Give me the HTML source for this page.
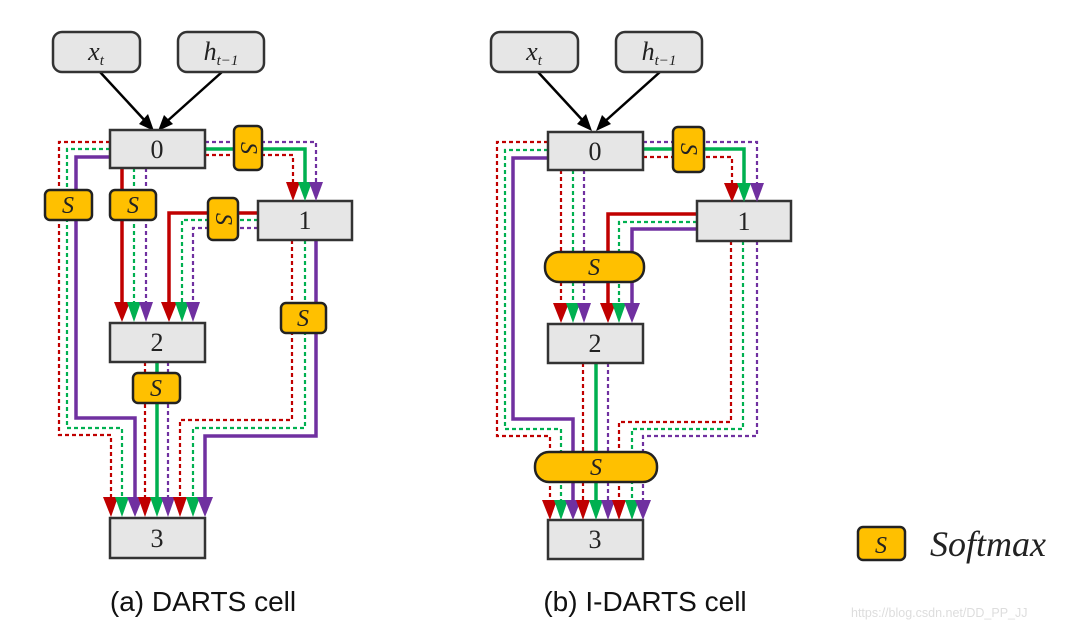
<!DOCTYPE html>
<html><head><meta charset="utf-8"><style>
html,body{margin:0;padding:0;background:#fff;}
svg{display:block;}
.n{fill:#e6e6e6;stroke:#333;stroke-width:2.5;}
.nt{font-family:"Liberation Serif",serif;font-size:26px;text-anchor:middle;fill:#222;}
.s{fill:#ffc000;stroke:#222;stroke-width:2.5;}
.st{font-family:"Liberation Serif",serif;font-style:italic;font-size:24px;text-anchor:middle;fill:#222;}
.rs{stroke:#c00000;stroke-width:3.5;fill:none;}
.gs{stroke:#00b050;stroke-width:3.5;fill:none;}
.ps{stroke:#7030a0;stroke-width:3.5;fill:none;}
.rd{stroke:#c00000;stroke-width:2.2;fill:none;stroke-dasharray:4 3;}
.gd{stroke:#00b050;stroke-width:2.2;fill:none;stroke-dasharray:4 3;}
.pd{stroke:#7030a0;stroke-width:2.2;fill:none;stroke-dasharray:4 3;}
.r{fill:#c00000}.g{fill:#00b050}.p{fill:#7030a0}
</style></head><body>
<svg width="1080" height="628" viewBox="0 0 1080 628" xmlns="http://www.w3.org/2000/svg">

<!-- ================= LEFT ================= -->
<line x1="100" y1="72" x2="148" y2="124" stroke="#000" stroke-width="2.5"/>
<polygon points="154,131 139,124 148,114" fill="#000"/>
<line x1="222" y1="72" x2="164" y2="124" stroke="#000" stroke-width="2.5"/>
<polygon points="158,131 164,115 173,124" fill="#000"/>
<rect x="53" y="32" width="87" height="40" rx="9" class="n"/>
<text x="96" y="60" class="nt" font-style="italic">x<tspan font-size="15" dy="5">t</tspan></text>
<rect x="178" y="32" width="86" height="40" rx="9" class="n"/>
<text x="221" y="60" class="nt" font-style="italic">h<tspan font-size="15" dy="5">t−1</tspan></text>

<path class="rd" d="M110,142 H59 V435 H111 V497"/>
<path class="gd" d="M110,149 H67 V428 H122 V497"/>
<path class="ps" d="M110,157 H76 V418 H135 V497"/>
<path class="rs" d="M122,168 V302"/>
<path class="gd" d="M134,168 V302"/>
<path class="pd" d="M146,168 V302"/>
<path class="rs" d="M258,213 H169 V302"/>
<path class="gd" d="M258,220 H182 V302"/>
<path class="pd" d="M258,228 H193 V302"/>
<path class="rd" d="M292,240 V420 H180 V497"/>
<path class="gd" d="M305,240 V428 H193 V497"/>
<path class="ps" d="M316,240 V436 H205 V497"/>
<path class="pd" d="M205,142 H316 V182"/>
<path class="gs" d="M205,149 H305 V182"/>
<path class="rd" d="M205,155 H293 V182"/>
<path class="rd" d="M145,362 V497"/>
<path class="gs" d="M157,362 V497"/>
<path class="pd" d="M168,362 V497"/>

<rect x="110" y="130" width="95" height="38" class="n"/><text x="157" y="158" class="nt">0</text>
<rect x="258" y="201" width="94" height="39" class="n"/><text x="305" y="229" class="nt">1</text>
<rect x="110" y="323" width="95" height="39" class="n"/><text x="157" y="351" class="nt">2</text>
<rect x="110" y="518" width="95" height="40" class="n"/><text x="157" y="547" class="nt">3</text>

<rect x="234" y="126" width="28" height="44" rx="5" class="s"/><text class="st" transform="translate(248,148) rotate(90)" y="7">S</text>
<rect x="45" y="190" width="47" height="30" rx="5" class="s"/><text x="68" y="213" class="st">S</text>
<rect x="110" y="190" width="46" height="30" rx="5" class="s"/><text x="133" y="213" class="st">S</text>
<rect x="208" y="198" width="30" height="42" rx="5" class="s"/><text class="st" transform="translate(223,219) rotate(90)" y="7">S</text>
<rect x="281" y="303" width="45" height="30" rx="5" class="s"/><text x="303" y="326" class="st">S</text>
<rect x="133" y="373" width="47" height="30" rx="5" class="s"/><text x="156" y="396" class="st">S</text>

<g>
<polygon class="r" points="286,182 300,182 293,201"/><polygon class="g" points="298,182 312,182 305,201"/><polygon class="p" points="309,182 323,182 316,201"/>
<polygon class="r" points="114,302 130,302 122,322"/><polygon class="g" points="127,302 141,302 134,322"/><polygon class="p" points="139,302 153,302 146,322"/>
<polygon class="r" points="161,302 177,302 169,322"/><polygon class="g" points="175,302 189,302 182,322"/><polygon class="p" points="186,302 200,302 193,322"/>
<polygon class="r" points="103,497 118,497 111,517"/><polygon class="g" points="115,497 129,497 122,517"/><polygon class="p" points="127,497 143,497 135,517"/>
<polygon class="r" points="138,497 152,497 145,517"/><polygon class="g" points="150,497 164,497 157,517"/><polygon class="p" points="161,497 175,497 168,517"/>
<polygon class="r" points="173,497 187,497 180,517"/><polygon class="g" points="186,497 200,497 193,517"/><polygon class="p" points="197,497 213,497 205,517"/>
</g>

<!-- ================= RIGHT ================= -->
<line x1="538" y1="72" x2="586" y2="124" stroke="#000" stroke-width="2.5"/>
<polygon points="592,131 577,124 586,114" fill="#000"/>
<line x1="660" y1="72" x2="602" y2="124" stroke="#000" stroke-width="2.5"/>
<polygon points="596,131 602,115 611,124" fill="#000"/>
<rect x="491" y="32" width="87" height="40" rx="9" class="n"/>
<text x="534" y="60" class="nt" font-style="italic">x<tspan font-size="15" dy="5">t</tspan></text>
<rect x="616" y="32" width="86" height="40" rx="9" class="n"/>
<text x="659" y="60" class="nt" font-style="italic">h<tspan font-size="15" dy="5">t−1</tspan></text>

<path class="rd" d="M548,142 H497 V436 H550 V500"/>
<path class="gd" d="M548,150 H505 V429 H561 V500"/>
<path class="ps" d="M548,158 H513 V419 H573 V500"/>
<path class="rd" d="M561,170 V303"/>
<path class="gd" d="M573,170 V303"/>
<path class="pd" d="M584,170 V303"/>
<path class="rs" d="M697,214 H608 V303"/>
<path class="gd" d="M697,222 H619 V303"/>
<path class="ps" d="M697,229 H632 V303"/>
<path class="rd" d="M731,241 V422 H619 V500"/>
<path class="gd" d="M743,241 V429 H632 V500"/>
<path class="pd" d="M757,241 V436 H643 V500"/>
<path class="pd" d="M643,142 H757 V183"/>
<path class="gs" d="M643,149 H744 V183"/>
<path class="rd" d="M643,157 H732 V183"/>
<path class="rd" d="M583,363 V500"/>
<path class="gs" d="M596,363 V500"/>
<path class="pd" d="M608,363 V500"/>

<rect x="548" y="132" width="95" height="38" class="n"/><text x="595" y="160" class="nt">0</text>
<rect x="697" y="201" width="94" height="40" class="n"/><text x="744" y="230" class="nt">1</text>
<rect x="548" y="324" width="95" height="39" class="n"/><text x="595" y="352" class="nt">2</text>
<rect x="548" y="520" width="95" height="39" class="n"/><text x="595" y="548" class="nt">3</text>

<rect x="673" y="127" width="31" height="45" rx="5" class="s"/><text class="st" transform="translate(688,149) rotate(90)" y="7">S</text>
<rect x="545" y="252" width="99" height="30" rx="14" class="s"/><text x="594" y="275" class="st">S</text>
<rect x="535" y="452" width="122" height="30" rx="14" class="s"/><text x="596" y="475" class="st">S</text>

<g>
<polygon class="r" points="724,183 740,183 732,202"/><polygon class="g" points="737,183 751,183 744,202"/><polygon class="p" points="750,183 764,183 757,202"/>
<polygon class="r" points="553,303 569,303 561,323"/><polygon class="g" points="566,303 580,303 573,323"/><polygon class="p" points="577,303 591,303 584,323"/>
<polygon class="r" points="600,303 616,303 608,323"/><polygon class="g" points="612,303 626,303 619,323"/><polygon class="p" points="624,303 640,303 632,323"/>
<polygon class="r" points="542,500 557,500 550,520"/><polygon class="g" points="554,500 568,500 561,520"/><polygon class="p" points="565,500 581,500 573,520"/>
<polygon class="r" points="576,500 590,500 583,520"/><polygon class="g" points="589,500 603,500 596,520"/><polygon class="p" points="601,500 615,500 608,520"/>
<polygon class="r" points="612,500 626,500 619,520"/><polygon class="g" points="625,500 639,500 632,520"/><polygon class="p" points="635,500 651,500 643,520"/>
</g>

<!-- legend -->
<rect x="858" y="527" width="47" height="33" rx="5" class="s"/><text x="881" y="553" class="st">S</text>
<text x="930" y="556" font-family="Liberation Serif,serif" font-style="italic" font-size="36" fill="#222">Softmax</text>

<text x="203" y="611" font-family="Liberation Sans,sans-serif" font-size="28" text-anchor="middle" fill="#111">(a) DARTS cell</text>
<text x="645" y="611" font-family="Liberation Sans,sans-serif" font-size="28" text-anchor="middle" fill="#111">(b) I-DARTS cell</text>
<text x="851" y="617" font-family="Liberation Sans,sans-serif" font-size="12.5" fill="#ddd">https://blog.csdn.net/DD_PP_JJ</text>
</svg>
</body></html>
